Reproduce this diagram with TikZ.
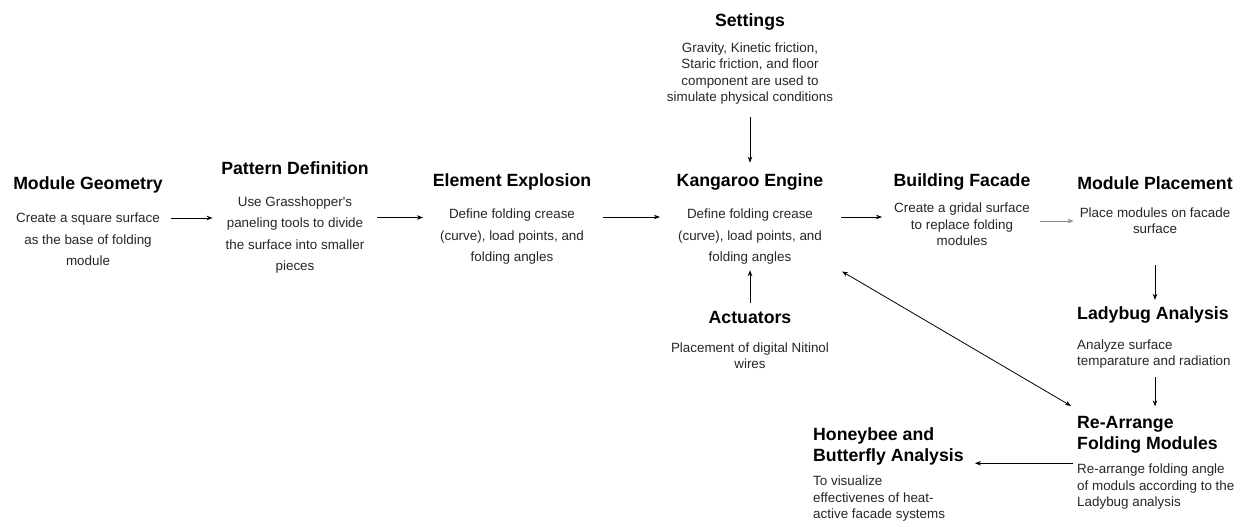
\documentclass[tikz,border=0pt]{standalone}
\usepackage{fontspec}
\setmainfont{Liberation Sans}
\usetikzlibrary{positioning,arrows.meta}

\tikzset{
  head/.style={font=\fontsize{17.7}{21}\selectfont\bfseries, inner sep=0pt, anchor=base},
  desc/.style={font=\fontsize{13.4}{21.5}\selectfont, text=black!85, align=center, inner sep=0pt},
  tight/.style={font=\fontsize{13.4}{16.3}\selectfont},
  arr/.style={draw, line width=0.8pt, -{Stealth[length=6pt,width=4.5pt]}},
}

\begin{document}
\begin{tikzpicture}[x={(1pt,0)}, y={(0,-1pt)}]
  \useasboundingbox (0,0) rectangle (1244,527);

  % main row
  \node[head] (mg) at (88,189.3) {Module Geometry};
  \node[desc, below=76.2pt of mg.base, anchor=base] (mgd) {Create a square surface\\as the base of folding\\module};

  \node[head] (pd) at (295,174.3) {Pattern Definition};
  \node[desc, below=96.2pt of pd.base, anchor=base] (pdd) {Use Grasshopper\textquotesingle s\\paneling tools to divide\\the surface into smaller\\pieces};

  \node[head] (ee) at (512,186.3) {Element Explosion};
  \node[desc, below=75.2pt of ee.base, anchor=base] (eed) {Define folding crease\\(curve), load points, and\\folding angles};

  \node[head] (ke) at (750,186.3) {Kangaroo Engine};
  \node[desc, below=75.2pt of ke.base, anchor=base] (ked) {Define folding crease\\(curve), load points, and\\folding angles};

  \node[head] (st) at (750,26.3) {Settings};
  \node[desc, tight, below=75.2pt of st.base, anchor=base] (std) {Gravity, Kinetic friction,\\Staric friction, and floor\\component are used to\\simulate physical conditions};

  \node[head] (ac) at (750,323.3) {Actuators};
  \node[desc, tight, below=45.2pt of ac.base, anchor=base] (acd) {Placement of digital Nitinol\\wires};

  \node[head] (bf) at (962,186.3) {Building Facade};
  \node[desc, tight, below=59.2pt of bf.base, anchor=base] (bfd) {Create a gridal surface\\to replace folding\\modules};

  \node[head] (mp) at (1155,189.3) {Module Placement};
  \node[desc, tight, below=44.2pt of mp.base, anchor=base] (mpd) {Place modules on facade\\surface};

  % right column and bottom
  \node[head, anchor=base west] (lb) at (1077,319.3) {Ladybug Analysis};
  \node[desc, tight, align=left, below=46.2pt of lb.base west, anchor=base west] (lbd) {Analyze surface\\temparature and radiation};

  \node[head, anchor=base west, align=left] (ra) at (1077,449.3) {Re-Arrange\\Folding Modules};
  \node[desc, tight, align=left, below=57.2pt of ra.base west, anchor=base west] (rad) {Re-arrange folding angle\\of moduls according to the\\Ladybug analysis};

  \node[head, anchor=base west, align=left] (hb) at (813,461.3) {Honeybee and\\Butterfly Analysis};
  \node[desc, tight, align=left, below=57.2pt of hb.base west, anchor=base west] (hbd) {To visualize\\effectivenes of heat-\\active facade systems};

  % connectors
  \draw[arr, shorten <=11pt, shorten >=13pt] ([yshift=47.5pt]mgd.base east) -- ([yshift=47.5pt]mgd.base east -| pdd.west);
  \draw[arr, shorten <=13pt, shorten >=17pt] ([yshift=44pt]eed.base west -| pdd.east) -- ([yshift=44pt]eed.base west);
  \draw[arr, shorten <=19pt, shorten >=18pt] ([yshift=44.5pt]eed.base east) -- ([yshift=44.5pt]ked.base west);
  \draw[arr, shorten <=19pt, shorten >=12pt] ([yshift=44.5pt]ked.base east) -- ([yshift=44.5pt]ked.base east -| bfd.west);
  \draw[arr, draw=black!45, line width=0.6pt, shorten <=10pt, shorten >=6pt] ([yshift=12.5pt]mpd.base west -| bfd.east) -- ([yshift=12.5pt]mpd.base west);
  \draw[arr, shorten <=12.7pt, shorten >=10.6pt] (std.south) -- (ke.north);
  \draw[arr, shorten <=7.6pt, shorten >=5.7pt] (ac.north) -- (ked.south);
  \draw[arr, shorten <=31.5pt, shorten >=6.4pt] (mpd.south) -- (mpd.south |- lb.north);
  \draw[arr, shorten <=8.7pt, shorten >=9.6pt] (mpd.south |- lbd.south) -- (mpd.south |- ra.north);
  \draw[arr, shorten <=4pt, shorten >=11pt] ([yshift=-10pt]ra.south west) -- ([yshift=-10pt]ra.south west -| hb.east);
  \draw[arr, {Stealth[length=6pt,width=4.5pt]}-{Stealth[length=6pt,width=4.5pt]}] ([xshift=20pt,yshift=-7pt]ked.south east) -- ([xshift=-6pt,yshift=10pt]ra.north west);
\end{tikzpicture}
\end{document}
